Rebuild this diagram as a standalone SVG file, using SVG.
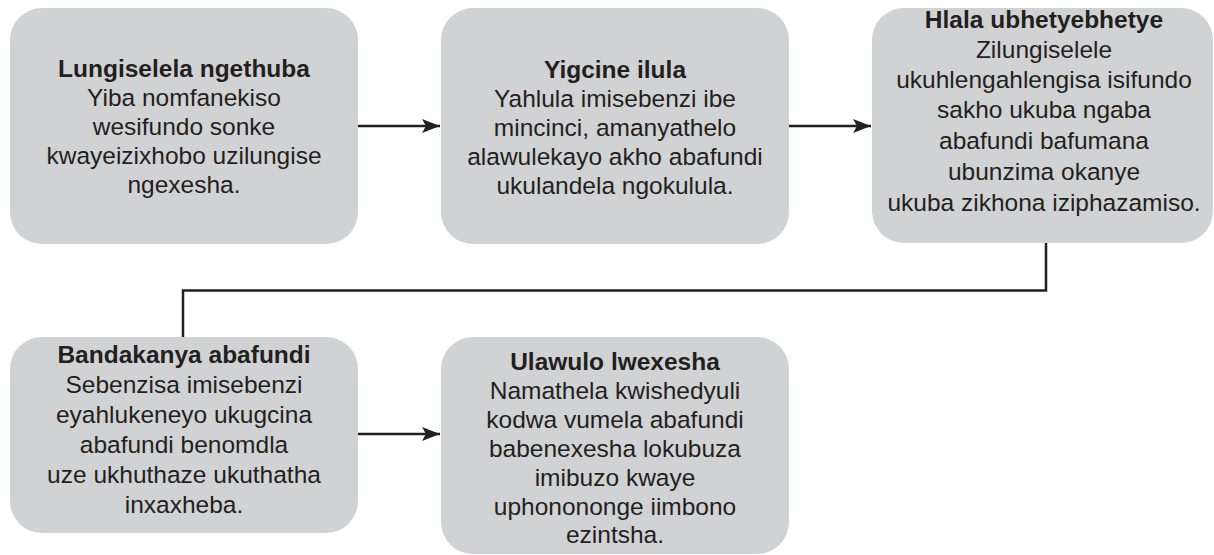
<svg xmlns="http://www.w3.org/2000/svg" width="1214" height="555" viewBox="0 0 1214 555">
<style>
.box{fill:#d1d2d4;}
.t{font-family:"Liberation Sans",Arial,sans-serif;font-size:24.5px;fill:#231f20;text-anchor:middle;}
.b{font-weight:bold;}
.c{fill:none;stroke:#231f20;stroke-width:2.5;}
</style>
<defs>
<marker id="ah" markerUnits="userSpaceOnUse" markerWidth="20" markerHeight="14" refX="18" refY="7" orient="auto">
<path d="M0,0 L18,7 L0,14 L4,7 Z" fill="#231f20"/>
</marker>
</defs>
<rect width="1214" height="555" fill="#ffffff"/>
<g id="connectors">
<line class="c" x1="358" y1="126" x2="440" y2="126" marker-end="url(#ah)"/>
<line class="c" x1="789" y1="126" x2="871" y2="126" marker-end="url(#ah)"/>
<polyline class="c" points="1046,243 1046,290.5 183,290.5 183,337"/>
<line class="c" x1="358" y1="434" x2="440" y2="434" marker-end="url(#ah)"/>
</g>
<g id="node1">
<rect class="box" x="10" y="8" width="348" height="236" rx="32"/>
<text class="t" x="184"><tspan class="b" x="184" y="77">Lungiselela ngethuba</tspan><tspan x="184" y="106">Yiba nomfanekiso</tspan><tspan x="184" y="135">wesifundo sonke</tspan><tspan x="184" y="164">kwayeizixhobo uzilungise</tspan><tspan x="184" y="193">ngexesha.</tspan></text>
</g>
<g id="node2">
<rect class="box" x="441" y="8" width="348" height="236" rx="32"/>
<text class="t" x="615"><tspan class="b" x="615" y="78">Yigcine ilula</tspan><tspan x="615" y="107">Yahlula imisebenzi ibe</tspan><tspan x="615" y="136">mincinci, amanyathelo</tspan><tspan x="615" y="165">alawulekayo akho abafundi</tspan><tspan x="615" y="194">ukulandela ngokulula.</tspan></text>
</g>
<g id="node3">
<rect class="box" x="872" y="8" width="341" height="235" rx="32"/>
<text class="t" x="1044"><tspan class="b" x="1044" y="28">Hlala ubhetyebhetye</tspan><tspan x="1044" y="58">Zilungiselele</tspan><tspan x="1044" y="88">ukuhlengahlengisa isifundo</tspan><tspan x="1044" y="118">sakho ukuba ngaba</tspan><tspan x="1044" y="149">abafundi bafumana</tspan><tspan x="1044" y="180">ubunzima okanye</tspan><tspan x="1044" y="211">ukuba zikhona iziphazamiso.</tspan></text>
</g>
<g id="node4">
<rect class="box" x="10" y="337" width="348" height="196" rx="32"/>
<text class="t" x="184"><tspan class="b" x="184" y="363">Bandakanya abafundi</tspan><tspan x="184" y="393">Sebenzisa imisebenzi</tspan><tspan x="184" y="423">eyahlukeneyo ukugcina</tspan><tspan x="184" y="453">abafundi benomdla</tspan><tspan x="184" y="483">uze ukhuthaze ukuthatha</tspan><tspan x="184" y="513">inxaxheba.</tspan></text>
</g>
<g id="node5">
<rect class="box" x="441" y="337" width="348" height="217" rx="32"/>
<text class="t" x="615"><tspan class="b" x="615" y="370">Ulawulo lwexesha</tspan><tspan x="615" y="399">Namathela kwishedyuli</tspan><tspan x="615" y="428">kodwa vumela abafundi</tspan><tspan x="615" y="457">babenexesha lokubuza</tspan><tspan x="615" y="486">imibuzo kwaye</tspan><tspan x="615" y="515">uphonononge iimbono</tspan><tspan x="615" y="543">ezintsha.</tspan></text>
</g>
</svg>
